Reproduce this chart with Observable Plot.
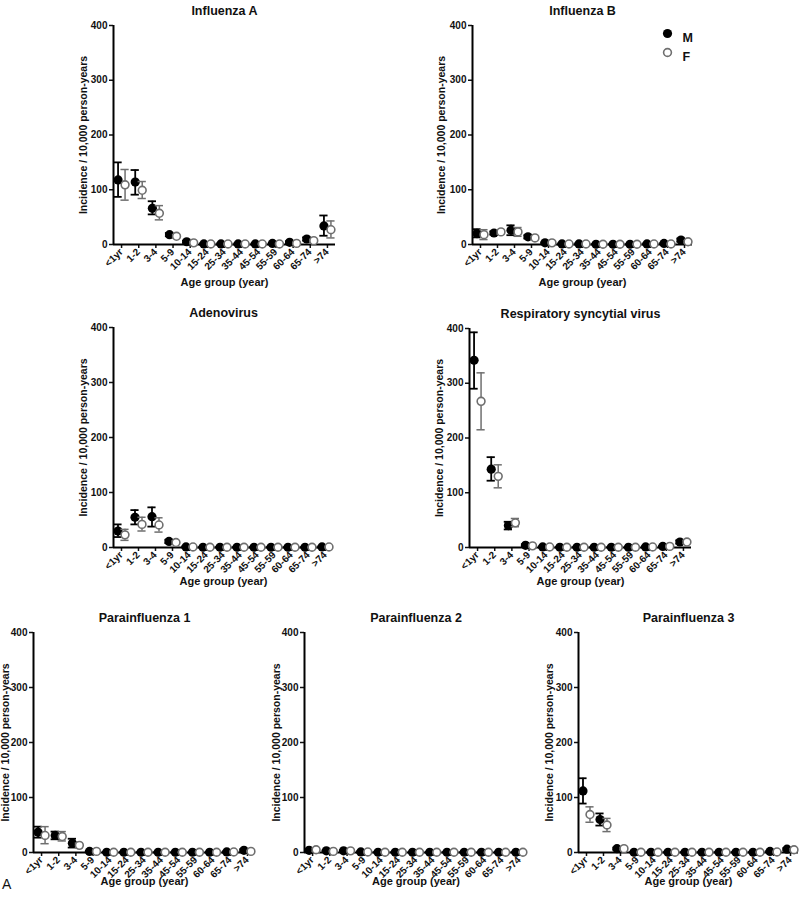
<!DOCTYPE html>
<html><head><meta charset="utf-8">
<script src="https://cdn.jsdelivr.net/npm/d3@7"></script>
<script src="https://cdn.jsdelivr.net/npm/@observablehq/plot@0.6"></script>
<style>
body{margin:0;background:#fff;}
#root{position:relative;width:800px;height:897px;overflow:hidden;font-family:"Liberation Sans",Arial,sans-serif;background:#fff;}
.panel{position:absolute;}
#letter{position:absolute;left:2px;top:876px;font-size:14px;color:#111;}
</style></head><body><div id="root"><div id="letter">A</div></div>
<script>
const ages = ["<1yr","1-2","3-4","5-9","10-14","15-24","25-34","35-44","45-54","55-59","60-64","65-74",">74"];
const yTicks = [0,100,200,300,400];
const sexes = ["M","F"];
const yLabel = "Incidence / 10,000 person-years";
const xLabel = "Age group (year)";

// Influenza A
const fluA_M    = [118,114,66,18,5,1,1,1,1,2,4,10,34];
const fluA_M_lo = [87,91,55,15,3,0,0,0,0,1,2,7,16];
const fluA_M_hi = [150,136,79,21,7,2,2,2,2,3,6,13,53];
const fluA_F    = [109,99,57,15,3,1,1,1,1,1,2,7,27];
const fluA_F_lo = [81,84,45,12,2,0,0,0,0,0,1,5,12];
const fluA_F_hi = [137,115,71,18,5,2,2,2,2,2,3,9,43];
// Influenza B
const fluB_M    = [20,21,26,14,3,1,1,0.5,0.5,0.5,1,2,8];
const fluB_M_lo = [13,18,17,11,2,0,0,0,0,0,0,1,5];
const fluB_M_hi = [28,24,35,17,4,2,2,1,1,1,2,3,11];
const fluB_F    = [18,23,23,12,3,1,1,0.5,0.5,0.5,1,1,5];
const fluB_F_lo = [9,19,15,9,2,0,0,0,0,0,0,0,3];
const fluB_F_hi = [27,27,31,15,4,2,2,1,1,1,2,2,7];
// Adenovirus
const adeno_M    = [30,55,56,11,1,0.5,0.5,0.5,0.5,0.5,0.5,0.5,1];
const adeno_M_lo = [19,42,38,8,0,0,0,0,0,0,0,0,0];
const adeno_M_hi = [42,68,73,14,2,1,1,1,1,1,1,1,2];
const adeno_F    = [23,42,41,9,1,0.5,0.5,0.5,0.5,0.5,0.5,0.5,1];
const adeno_F_lo = [13,30,28,6,0,0,0,0,0,0,0,0,0];
const adeno_F_hi = [33,55,54,12,2,1,1,1,1,1,1,1,2];
// Respiratory syncytial virus
const rsv_M    = [342,143,40,4,1,0.5,0.5,0.5,0.5,0.5,1,2,10];
const rsv_M_lo = [290,122,33,2,0,0,0,0,0,0,0,1,7];
const rsv_M_hi = [393,165,47,6,2,1,1,1,1,1,2,3,13];
const rsv_F    = [267,130,45,3,1,0.5,0.5,0.5,0.5,0.5,1,2,10];
const rsv_F_lo = [215,109,38,1,0,0,0,0,0,0,0,1,7];
const rsv_F_hi = [319,151,53,5,2,1,1,1,1,1,2,3,13];
// Parainfluenza 1
const pi1_M    = [37,31,17,2,0.5,0.5,0.5,0.5,0.5,0.5,0.5,1,4];
const pi1_M_lo = [27,24,9,1,0,0,0,0,0,0,0,0,2];
const pi1_M_hi = [47,38,25,3,1,1,1,1,1,1,1,2,6];
const pi1_F    = [31,29,13,2,0.5,0.5,0.5,0.5,0.5,0.5,0.5,1,2];
const pi1_F_lo = [16,21,9,1,0,0,0,0,0,0,0,0,1];
const pi1_F_hi = [47,38,17,3,1,1,1,1,1,1,1,2,3];
// Parainfluenza 2
const pi2_M    = [4,3,3,1,0.5,0.5,0.5,0.5,0.5,0.5,0.5,0.5,0.5];
const pi2_M_lo = [2,2,2,0,0,0,0,0,0,0,0,0,0];
const pi2_M_hi = [6,4,4,2,1,1,1,1,1,1,1,1,1];
const pi2_F    = [5,2,3,1,0.5,0.5,0.5,0.5,0.5,0.5,0.5,0.5,0.5];
const pi2_F_lo = [2,1,2,0,0,0,0,0,0,0,0,0,0];
const pi2_F_hi = [8,3,4,2,1,1,1,1,1,1,1,1,1];
// Parainfluenza 3
const pi3_M    = [112,60,7,0.5,0.5,0.5,0.5,0.5,0.5,0.5,0.5,2,6];
const pi3_M_lo = [89,49,5,0,0,0,0,0,0,0,0,1,4];
const pi3_M_hi = [135,71,9,1,1,1,1,1,1,1,1,3,8];
const pi3_F    = [69,50,7,0.5,0.5,0.5,0.5,0.5,0.5,0.5,0.5,1,5];
const pi3_F_lo = [55,38,5,0,0,0,0,0,0,0,0,0,3];
const pi3_F_hi = [83,62,9,1,1,1,1,1,1,1,1,2,7];

const panels = [
  {title:"Influenza A", M:[fluA_M,fluA_M_lo,fluA_M_hi], F:[fluA_F,fluA_F_lo,fluA_F_hi]},
  {title:"Influenza B", M:[fluB_M,fluB_M_lo,fluB_M_hi], F:[fluB_F,fluB_F_lo,fluB_F_hi], legend:true},
  {title:"Adenovirus", M:[adeno_M,adeno_M_lo,adeno_M_hi], F:[adeno_F,adeno_F_lo,adeno_F_hi]},
  {title:"Respiratory syncytial virus", M:[rsv_M,rsv_M_lo,rsv_M_hi], F:[rsv_F,rsv_F_lo,rsv_F_hi]},
  {title:"Parainfluenza 1", M:[pi1_M,pi1_M_lo,pi1_M_hi], F:[pi1_F,pi1_F_lo,pi1_F_hi]},
  {title:"Parainfluenza 2", M:[pi2_M,pi2_M_lo,pi2_M_hi], F:[pi2_F,pi2_F_lo,pi2_F_hi]},
  {title:"Parainfluenza 3", M:[pi3_M,pi3_M_lo,pi3_M_hi], F:[pi3_F,pi3_F_lo,pi3_F_hi]}
];

// layout: frame left, top, width, height; x-label and y-label offsets
const layout = [
  {left:113, top:25, w:222, h:219, xl:41, yl:30},
  {left:472, top:25, w:220, h:219, xl:41, yl:31},
  {left:113, top:327, w:220, h:220, xl:37, yl:30},
  {left:469, top:328, w:222, h:219, xl:37, yl:30},
  {left:33, top:632, w:222, h:220, xl:32, yl:28},
  {left:304, top:632, w:223, h:220, xl:32, yl:28},
  {left:578, top:632, w:220, h:220, xl:32, yl:29}
];

const ML = 45, MR = 12, MT = 30, MB = 52;
const xDom = [-0.47, ages.length - 1 + 0.47];
const cap = 0.24, off = 3.5;
const colM = "#000", colF = "#6f6f6f";
const root = document.getElementById("root");
const ageRows = ages.map((a, i) => ({i, a}));

panels.forEach((p, k) => {
  const L = layout[k];
  const rows = (s) => ages.map((a, i) => ({i, age:a, sex:s, v:p[s][0][i], lo:p[s][1][i], hi:p[s][2][i]}));
  const M = rows("M"), F = rows("F");
  const errMarks = (data, dx, col, sw) => [
    Plot.ruleX(data, {x:"i", y1:"lo", y2:"hi", dx, stroke:col, strokeWidth:sw}),
    Plot.ruleY(data, {y:"hi", x1:d=>d.i-cap, x2:d=>d.i+cap, dx, stroke:col, strokeWidth:sw}),
    Plot.ruleY(data, {y:"lo", x1:d=>d.i-cap, x2:d=>d.i+cap, dx, stroke:col, strokeWidth:sw})
  ];
  const marks = [
    Plot.axisY({ticks:yTicks, tickSize:4, tickPadding:2, fontSize:10, fontWeight:"bold", label:null, strokeWidth:1.5}),
    Plot.axisX({ticks:d3.range(ages.length), tickFormat:()=>"", tickSize:4, label:null, strokeWidth:1.5}),
    Plot.text(ageRows, {x:"i", text:"a", frameAnchor:"bottom", dx:2, dy:8, rotate:-45, textAnchor:"end", fontSize:10, fontWeight:"bold"}),
    Plot.ruleY([0], {strokeWidth:1.8, stroke:"#000"}),
    Plot.ruleX([xDom[0]], {y1:yTicks[0], y2:yTicks[yTicks.length-1], strokeWidth:2, stroke:"#000"}),
    ...errMarks(M, -off, colM, 1.8),
    Plot.dot(M, {x:"i", y:"v", dx:-off, r:4.6, fill:colM, stroke:"none"}),
    ...errMarks(F, off, colF, 1.5),
    Plot.dot(F, {x:"i", y:"v", dx:off, r:3.9, fill:"white", stroke:colF, strokeWidth:1.6}),
    Plot.text([p.title], {frameAnchor:"top", dy:-19, fontSize:12.5, fontWeight:"bold"}),
    Plot.text([yLabel], {frameAnchor:"left", textAnchor:"middle", dx:-L.yl, rotate:-90, fontSize:10.5, fontWeight:"bold"}),
    Plot.text([xLabel], {frameAnchor:"bottom", dy:L.xl, fontSize:11, fontWeight:"bold"})
  ];
  if (p.legend) {
    marks.push(
      Plot.dot([sexes[0]], {frameAnchor:"top-right", dx:-25, dy:8, r:4.6, fill:colM}),
      Plot.dot([sexes[1]], {frameAnchor:"top-right", dx:-25, dy:27, r:3.9, fill:"white", stroke:colF, strokeWidth:1.6}),
      Plot.text([sexes[0]], {frameAnchor:"top-right", dx:-10, dy:8, textAnchor:"start", fontSize:12.5, fontWeight:"bold"}),
      Plot.text([sexes[1]], {frameAnchor:"top-right", dx:-10, dy:27, textAnchor:"start", fontSize:12.5, fontWeight:"bold"})
    );
  }
  const chart = Plot.plot({
    width: ML + L.w + MR,
    height: MT + L.h + MB,
    marginLeft: ML, marginRight: MR, marginTop: MT, marginBottom: MB,
    x: {type:"linear", domain:xDom},
    y: {domain:[yTicks[0], yTicks[yTicks.length-1]]},
    style: {fontFamily:"'Liberation Sans', Arial, sans-serif", fontSize:"10px", color:"#111", background:"transparent", overflow:"visible"},
    marks
  });
  chart.classList.add("panel");
  chart.style.left = (L.left - ML) + "px";
  chart.style.top = (L.top - MT) + "px";
  root.appendChild(chart);
});
</script>
</body></html>
